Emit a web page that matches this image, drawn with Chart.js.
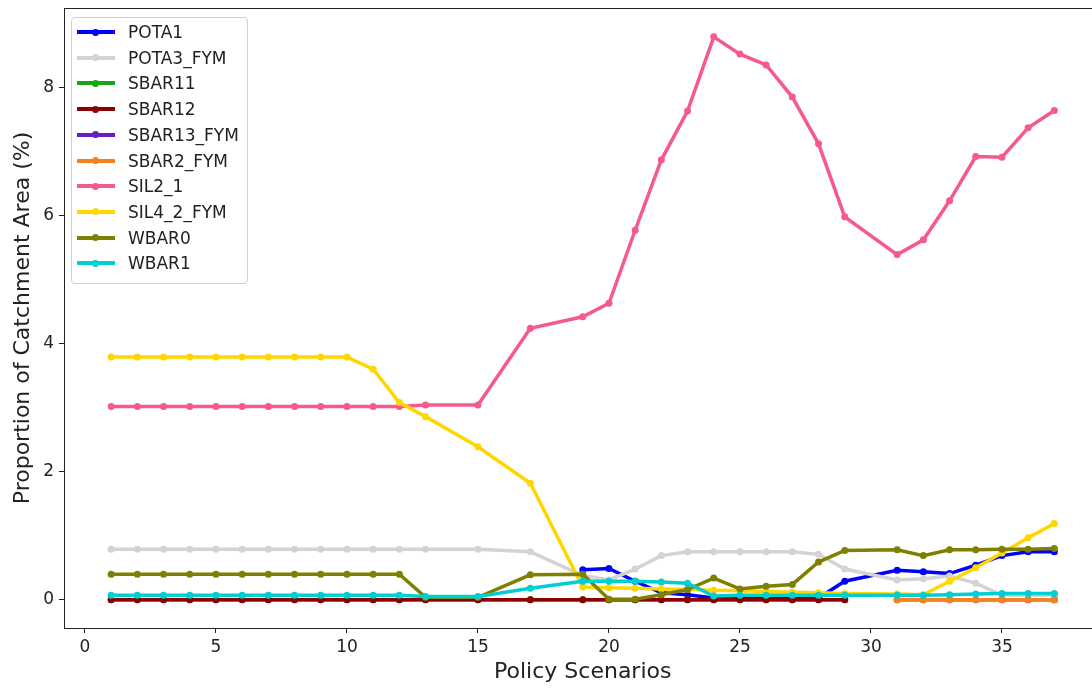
<!DOCTYPE html>
<html>
<head>
<meta charset="utf-8">
<script src="https://cdn.jsdelivr.net/npm/chart.js@4/dist/chart.umd.min.js"></script>
<style>
  html, body { margin: 0; padding: 0; background: #fff; overflow: hidden; }
  #wrap { position: relative; width: 1105px; height: 688px; }
  #legend {
    position: absolute; left: 71px; top: 17px; width: 175px; height: 265px;
    border: 1px solid #d0d0d0; border-radius: 4px; background: rgba(255,255,255,0.85);
    font-family: 'DejaVu Sans', sans-serif; font-size: 17px; color: #222;
  }
  .item { position: absolute; left: 0; height: 20px; width: 170px; }
  .swatch { position: absolute; left: 5px; top: 8px; width: 38px; height: 4px; }
  .dot { position: absolute; left: 20px; top: 6.5px; width: 7px; height: 7px; border-radius: 50%; }
  .lbl { position: absolute; left: 56px; top: 0; line-height: 20px; }
</style>
</head>
<body>
<div id="wrap">
  <canvas id="chart" width="1105" height="688"></canvas>
  <div id="legend"></div>
</div>
<script>
// policy scenarios present in the data (14, 16, 18, 30 are absent)
const scenarios = [1,2,3,4,5,6,7,8,9,10,11,12,13,15,17,19,20,21,22,23,24,25,26,27,28,29,31,32,33,34,35,36,37];

const names = ['POTA1','POTA3_FYM','SBAR11','SBAR12','SBAR13_FYM','SBAR2_FYM','SIL2_1','SIL4_2_FYM','WBAR0','WBAR1'];
const colors = ['#0000ff','#d3d3d3','#13a813','#8b0000','#6a1bc8','#f5821f','#f55a8a','#ffd700','#808000','#00ced1'];

const _ = null;
//                 1..13 ....................................................   15    17    19    20    21    22    23    24    25    26    27    28    29    31    32    33    34    35    36    37
const pota1     = [_,_,_,_,_,_,_,_,_,_,_,_,_,                                   _,    _,    0.47, 0.49, 0.29, 0.11, 0.08, 0.03, 0.03, 0.03, 0.03, 0.03, 0.29, 0.46, 0.44, 0.41, 0.54, 0.69, 0.75, 0.75];
const pota3Fym  = [0.79,0.79,0.79,0.79,0.79,0.79,0.79,0.79,0.79,0.79,0.79,0.79,0.79, 0.79, 0.75, 0.38, 0.31, 0.48, 0.69, 0.75, 0.75, 0.75, 0.75, 0.75, 0.71, 0.48, 0.31, 0.33, 0.37, 0.26, 0.07, 0.07, 0.07];
const sbar11    = [0,0,0,0,0,0,0,0,0,0,0,0,0,                                   0,    0,    0,    0,    0,    0,    0,    0,    0,    0,    0,    0,    0,    _,    _,    _,    _,    _,    _,    _];
const sbar12    = [0,0,0,0,0,0,0,0,0,0,0,0,0,                                   0,    0,    0,    0,    0,    0,    0,    0,    0,    0,    0,    0,    0,    _,    _,    _,    _,    _,    _,    _];
const sbar13Fym = [_,_,_,_,_,_,_,_,_,_,_,_,_,                                   _,    _,    _,    _,    _,    _,    _,    _,    _,    _,    _,    _,    _,    0,    0,    0,    0,    0,    0,    0];
const sbar2Fym  = [_,_,_,_,_,_,_,_,_,_,_,_,_,                                   _,    _,    _,    _,    _,    _,    _,    _,    _,    _,    _,    _,    _,    0,    0,    0,    0,    0,    0,    0];
const sil2_1    = [3.02,3.02,3.02,3.02,3.02,3.02,3.02,3.02,3.02,3.02,3.02,3.02,3.04, 3.04, 4.24, 4.42, 4.63, 5.77, 6.87, 7.63, 8.79, 8.52, 8.35, 7.85, 7.12, 5.98, 5.39, 5.62, 6.23, 6.92, 6.91, 7.37, 7.64];
const sil4_2Fym = [3.79,3.79,3.79,3.79,3.79,3.79,3.79,3.79,3.79,3.79,3.60,3.08,2.86, 2.39, 1.82, 0.20, 0.19, 0.18, 0.17, 0.16, 0.15, 0.14, 0.13, 0.12, 0.11, 0.10, 0.09, 0.08, 0.29, 0.50, 0.73, 0.97, 1.19];
const wbar0     = [0.40,0.40,0.40,0.40,0.40,0.40,0.40,0.40,0.40,0.40,0.40,0.40,0.04, 0.04, 0.39, 0.40, 0.01, 0.01, 0.08, 0.16, 0.34, 0.17, 0.21, 0.24, 0.59, 0.77, 0.78, 0.69, 0.78, 0.78, 0.79, 0.79, 0.80];
const wbar1     = [0.07,0.07,0.07,0.07,0.07,0.07,0.07,0.07,0.07,0.07,0.07,0.07,0.05, 0.05, 0.18, 0.29, 0.29, 0.29, 0.28, 0.26, 0.06, 0.07, 0.07, 0.07, 0.07, 0.07, 0.07, 0.07, 0.08, 0.09, 0.10, 0.10, 0.10];

const seriesValues = [pota1, pota3Fym, sbar11, sbar12, sbar13Fym, sbar2Fym, sil2_1, sil4_2Fym, wbar0, wbar1];

const xTicks = [0,5,10,15,20,25,30,35];
const yTicks = [0,2,4,6,8];

const FONT = "'DejaVu Sans', sans-serif";

// matplotlib draws later series on top; Chart.js draws lowest order last
const datasets = names.map((name, i) => ({
  label: name,
  data: scenarios.map((x, k) => ({ x, y: seriesValues[i][k] })).filter(p => p.y !== null),
  borderColor: colors[i],
  backgroundColor: colors[i],
  borderWidth: 3.5,
  pointRadius: 3.5,
  pointBorderWidth: 0,
  pointHoverRadius: 3.5,
  tension: 0,
  order: names.length - i,
}));

const frame = {
  id: 'frame',
  afterDraw(chart) {
    const { ctx, chartArea: a } = chart;
    ctx.save();
    ctx.strokeStyle = '#222';
    ctx.lineWidth = 1;
    ctx.strokeRect(Math.round(a.left) + 0.5, Math.round(a.top) + 0.5, Math.round(a.right - a.left), Math.round(a.bottom - a.top));
    ctx.restore();
  }
};

new Chart(document.getElementById('chart'), {
  type: 'line',
  data: { datasets },
  plugins: [frame],
  options: {
    responsive: false,
    animation: false,
    layout: { padding: { top: 8, right: 0, left: 0, bottom: 0 } },
    plugins: { legend: { display: false }, tooltip: { enabled: false } },
    scales: {
      x: {
        type: 'linear',
        min: -0.8,
        max: 38.8,
        afterBuildTicks: s => { s.ticks = xTicks.map(v => ({ value: v })); },
        afterFit: s => { s.height = 60; s.paddingLeft = 0; s.paddingRight = 0; },
        grid: { drawOnChartArea: false, drawTicks: true, tickLength: 5, color: '#222' },
        border: { display: false },
        ticks: { color: '#222', font: { family: FONT, size: 17 }, padding: 4, maxRotation: 0 },
        title: { display: true, text: 'Policy Scenarios', color: '#222', font: { family: FONT, size: 22 }, padding: { top: 0, bottom: 3 } },
      },
      y: {
        type: 'linear',
        min: -0.44,
        max: 9.24,
        afterBuildTicks: s => { s.ticks = yTicks.map(v => ({ value: v })); },
        afterFit: s => { s.width = 64; s.paddingTop = 0; s.paddingBottom = 0; },
        grid: { drawOnChartArea: false, drawTicks: true, tickLength: 5, color: '#222' },
        border: { display: false },
        ticks: { color: '#222', font: { family: FONT, size: 17 }, padding: 5 },
        title: { display: true, text: 'Proportion of Catchment Area (%)', color: '#222', font: { family: FONT, size: 22 }, padding: { top: 10, bottom: 0 } },
      },
    },
  },
});

// legend box in the upper-left corner, as matplotlib places it
const legend = document.getElementById('legend');
names.forEach((name, i) => {
  const item = document.createElement('div');
  item.className = 'item';
  item.style.top = (4 + i * 25.7) + 'px';
  item.innerHTML = `<div class="swatch" style="background:${colors[i]}"></div>` +
    `<div class="dot" style="background:${colors[i]}"></div>` +
    `<div class="lbl">${name}</div>`;
  legend.appendChild(item);
});
</script>
</body>
</html>
